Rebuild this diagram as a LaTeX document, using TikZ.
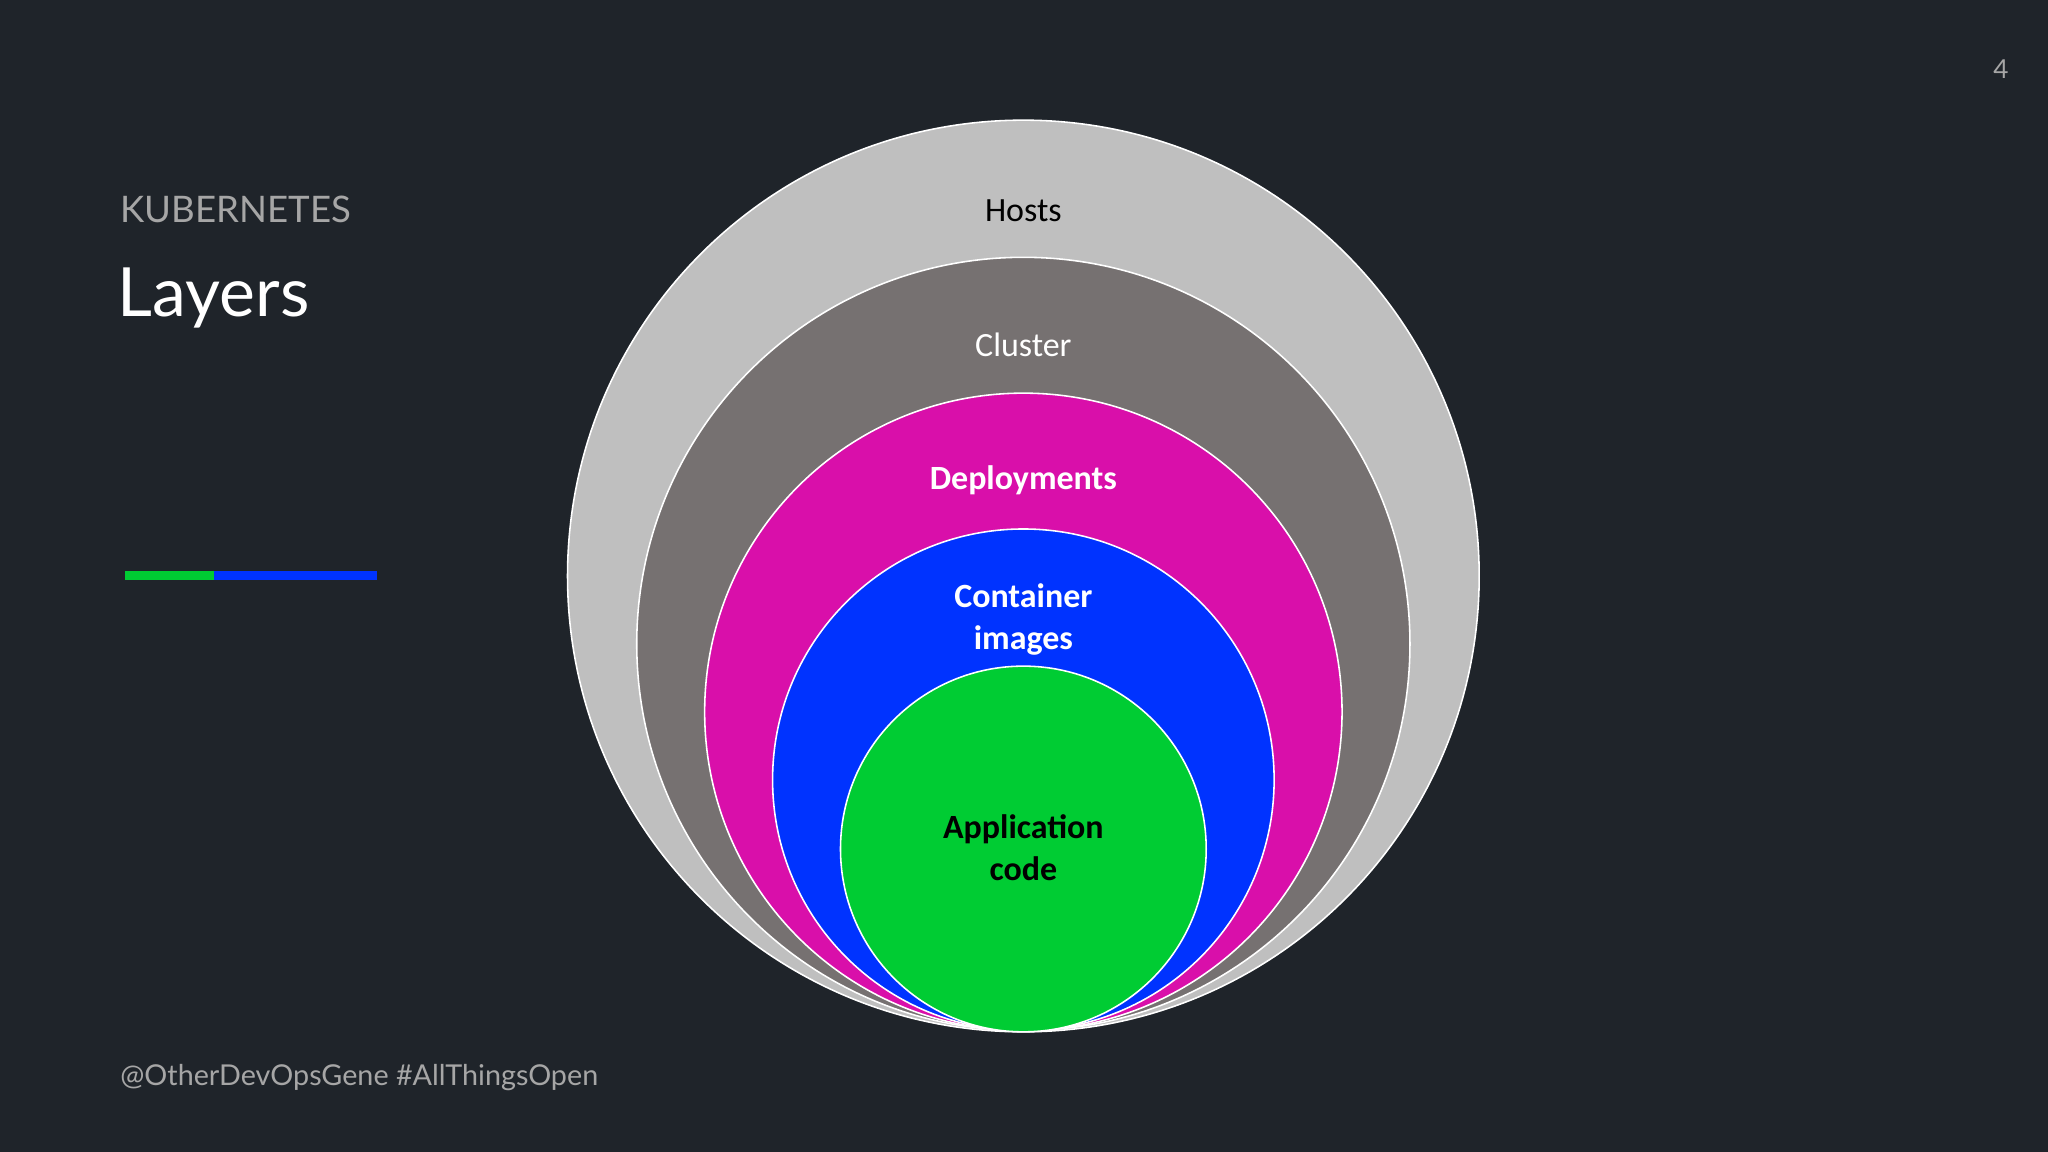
\documentclass[tikz,border=0pt]{standalone}
\usepackage{fontspec}
\setmainfont{Carlito}
\newfontfamily\latofont{Lato}
\definecolor{bg}{HTML}{1F242A}
\definecolor{hostc}{HTML}{BFBFBF}
\definecolor{clusc}{HTML}{767171}
\definecolor{depc}{HTML}{D90FAA}
\definecolor{contc}{HTML}{0033FF}
\definecolor{appc}{HTML}{00CC33}
\definecolor{greyt}{HTML}{A6A6A6}
\begin{document}
\begin{tikzpicture}[x=1pt,y=-1pt,
  layer/.style={draw=white,line width=1.2pt},
  lbl/.style={font=\fontsize{26}{32}\selectfont,align=center}]
\fill[bg] (0,0) rectangle (1568,882);
\useasboundingbox (0,0) rectangle (1568,882);
\filldraw[layer,fill=hostc] (783.5,441) circle (349);
\filldraw[layer,fill=clusc] (783.5,493) circle (296);
\filldraw[layer,fill=depc] (783.5,545) circle (244);
\filldraw[layer,fill=contc] (783.5,597) circle (192);
\filldraw[layer,fill=appc] (783.5,650) circle (140);
\node[lbl,text=black] (hosts) at (783.5,161) {Hosts};
\node[lbl,text=white] (cluster) at (783.5,264) {Cluster};
\node[lbl,text=white,font=\fontsize{26}{32}\selectfont\bfseries] (dep) at (783.5,368) {Deployments};
\node[lbl,text=white,font=\fontsize{26}{32}\selectfont\bfseries] (cont) at (783.5,474) {Container\\images};
\node[lbl,text=black,font=\fontsize{26}{32}\selectfont\bfseries] (app) at (783.5,649) {Application\\code};
\node[anchor=west,text=greyt,font=\latofont\fontsize{28}{30}\selectfont,inner sep=0] (kub) at (92,160) {KUBERNETES};
\node[anchor=west,text=white,font=\latofont\fontsize{52}{56}\selectfont,inner sep=0] (title) at (90,228) {Layers};
\fill[appc] (96,437) rectangle (164,444);
\fill[contc] (164,437) rectangle (289,444);
\node[anchor=west,text=greyt,font=\latofont\fontsize{22}{24}\selectfont,inner sep=0] (foot) at (92,825) {@OtherDevOpsGene \#AllThingsOpen};
\node[text=greyt,font=\latofont\fontsize{20}{22}\selectfont,inner sep=0] (num) at (1532,53) {4};
\end{tikzpicture}
\end{document}
